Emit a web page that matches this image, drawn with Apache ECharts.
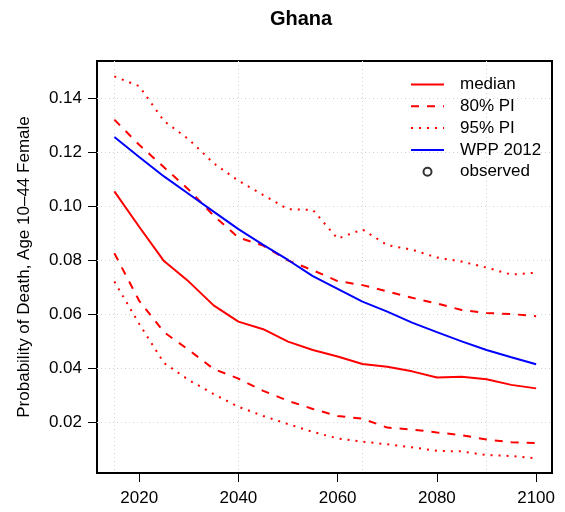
<!DOCTYPE html>
<html>
<head>
<meta charset="utf-8">
<script src="https://cdn.jsdelivr.net/npm/echarts@6/dist/echarts.min.js"></script>
<style>
  html, body { margin: 0; padding: 0; background: #fff; }
  #chart { width: 565px; height: 512px; }
</style>
</head>
<body>
<div id="chart"></div>
<script>
// Projection years (5-year steps)
const years = [2015, 2020, 2025, 2030, 2035, 2040, 2045, 2050, 2055,
               2060, 2065, 2070, 2075, 2080, 2085, 2090, 2095, 2100];

// Probability of death, age 10-44, female
const median    = [0.1056, 0.0925, 0.0798, 0.0722, 0.0634, 0.0574, 0.0546, 0.0500, 0.0469,
                   0.0445, 0.0417, 0.0407, 0.0390, 0.0367, 0.0370, 0.0361, 0.0340, 0.0327];
const pi80Upper = [0.1321, 0.1228, 0.1145, 0.1062, 0.0966, 0.0885, 0.0855, 0.0800, 0.0764,
                   0.0724, 0.0709, 0.0686, 0.0662, 0.0641, 0.0617, 0.0606, 0.0602, 0.0594];
const pi80Lower = [0.0827, 0.0651, 0.0535, 0.0469, 0.0399, 0.0363, 0.0318, 0.0281, 0.0251,
                   0.0225, 0.0215, 0.0182, 0.0175, 0.0164, 0.0154, 0.0138, 0.0128, 0.0125];
const pi95Upper = [0.1481, 0.1445, 0.1316, 0.1248, 0.1160, 0.1095, 0.1042, 0.0990, 0.0987,
                   0.0881, 0.0915, 0.0857, 0.0840, 0.0811, 0.0796, 0.0774, 0.0748, 0.0755];
const pi95Lower = [0.0722, 0.0566, 0.0421, 0.0358, 0.0306, 0.0259, 0.0225, 0.0195, 0.0166,
                   0.0142, 0.0130, 0.0120, 0.0109, 0.0096, 0.0094, 0.0080, 0.0077, 0.0068];
const wpp2012   = [0.1257, 0.1183, 0.1111, 0.1046, 0.0981, 0.0916, 0.0858, 0.0802, 0.0742,
                   0.0695, 0.0648, 0.0611, 0.0570, 0.0535, 0.0501, 0.0469, 0.0442, 0.0416];
const observed  = [];

// Axis ticks and grid positions
const xTicks = [2020, 2040, 2060, 2080, 2100];
const xGridLines = [2015, 2040, 2065, 2090];
const yTicks = [0.02, 0.04, 0.06, 0.08, 0.10, 0.12, 0.14];

const FONT = "'Liberation Sans', Arial, Helvetica, sans-serif";
const RED = '#ff0000';
const BLUE = '#0000ff';
const DASHED = [8, 8];
const DOTTED = [2, 6];
const LW = 2;

const pairs = (vals) => years.map((y, i) => [y, vals[i]]);

function lineSeries(name, vals, color, type) {
  return {
    name: name,
    type: 'line',
    xAxisIndex: 0,
    data: pairs(vals),
    symbol: 'none',
    legendIcon: 'none',
    silent: true,
    animation: false,
    lineStyle: { color: color, width: LW, type: type, cap: 'butt' },
    itemStyle: { color: color },
    z: 3
  };
}

// legend entry for a line: line sample only, no point symbol
function lineLegend(name, color, type) {
  return { name: name, lineStyle: { color: color, width: LW, type: type },
           itemStyle: { opacity: 0 } };
}

const gridDotted = { color: '#d3d3d3', width: 1, type: [1, 3] };

const chart = echarts.init(document.getElementById('chart'), null, { renderer: 'canvas' });

chart.setOption({
  animation: false,
  backgroundColor: '#ffffff',
  textStyle: { fontFamily: FONT },
  grid: {
    left: 97, top: 61, width: 455, height: 412,
    show: true, borderColor: '#000', borderWidth: 2,
    backgroundColor: 'transparent',
    containLabel: false
  },
  xAxis: [
    {
      type: 'value',
      min: 2011.5, max: 2103.2,
      position: 'bottom',
      axisLine: { show: false },
      axisTick: { show: true, length: 9, customValues: xTicks,
                  lineStyle: { color: '#000', width: 1 } },
      axisLabel: { show: true, customValues: xTicks, fontSize: 17, color: '#000',
                   fontFamily: FONT, margin: 17,
                   formatter: (v) => String(Math.round(v)) },
      splitLine: { show: false }
    },
    {
      type: 'value',
      min: 2011.5, max: 2103.2,
      position: 'bottom',
      axisLine: { show: false },
      axisTick: { show: false, customValues: xGridLines },
      axisLabel: { show: false, customValues: xGridLines },
      splitLine: { show: true, lineStyle: gridDotted }
    }
  ],
  yAxis: {
    type: 'value',
    min: 0.0014, max: 0.1538,
    axisLine: { show: false },
    axisTick: { show: true, length: 9, customValues: yTicks,
                lineStyle: { color: '#000', width: 1 } },
    axisLabel: { show: true, customValues: yTicks, fontSize: 17, color: '#000',
                 fontFamily: FONT, margin: 15,
                 formatter: (v) => Number(v).toFixed(2) },
    splitLine: { show: true, lineStyle: gridDotted }
  },
  legend: {
    orient: 'vertical',
    left: 410, top: 76,
    padding: 0,
    itemWidth: 33, itemHeight: 8, itemGap: 4.8,
    selectedMode: false,
    textStyle: { fontSize: 17, color: '#000', fontFamily: FONT, lineHeight: 17,
                 padding: [0, 0, 0, 11] },
    data: [
      lineLegend('median', RED, 'solid'),
      lineLegend('80% PI', RED, DASHED),
      lineLegend('95% PI', RED, DOTTED),
      lineLegend('WPP 2012', BLUE, 'solid'),
      { name: 'observed', icon: 'circle',
        itemStyle: { color: 'rgba(0,0,0,0)', borderColor: '#000', borderWidth: 2 } }
    ]
  },
  graphic: [
    {
      type: 'text', x: 301, y: 19.7,
      style: { text: 'Ghana', font: 'bold 20px ' + FONT, fill: '#000',
               textAlign: 'center', textVerticalAlign: 'middle' }
    },
    {
      type: 'text', x: 24.7, y: 267, rotation: Math.PI / 2,
      style: { text: 'Probability of Death, Age 10\u201344 Female', font: '17px ' + FONT,
               fill: '#000', textAlign: 'center', textVerticalAlign: 'middle' }
    }
  ],
  series: [
    lineSeries('median', median, RED, 'solid'),
    lineSeries('80% PI', pi80Upper, RED, DASHED),
    lineSeries('80% PI', pi80Lower, RED, DASHED),
    lineSeries('95% PI', pi95Upper, RED, DOTTED),
    lineSeries('95% PI', pi95Lower, RED, DOTTED),
    lineSeries('WPP 2012', wpp2012, BLUE, 'solid'),
    {
      name: 'observed',
      type: 'scatter',
      data: observed,
      symbol: 'circle',
      symbolSize: 8,
      itemStyle: { color: 'rgba(0,0,0,0)', borderColor: '#000', borderWidth: 2 }
    }
  ]
});
</script>
</body>
</html>
